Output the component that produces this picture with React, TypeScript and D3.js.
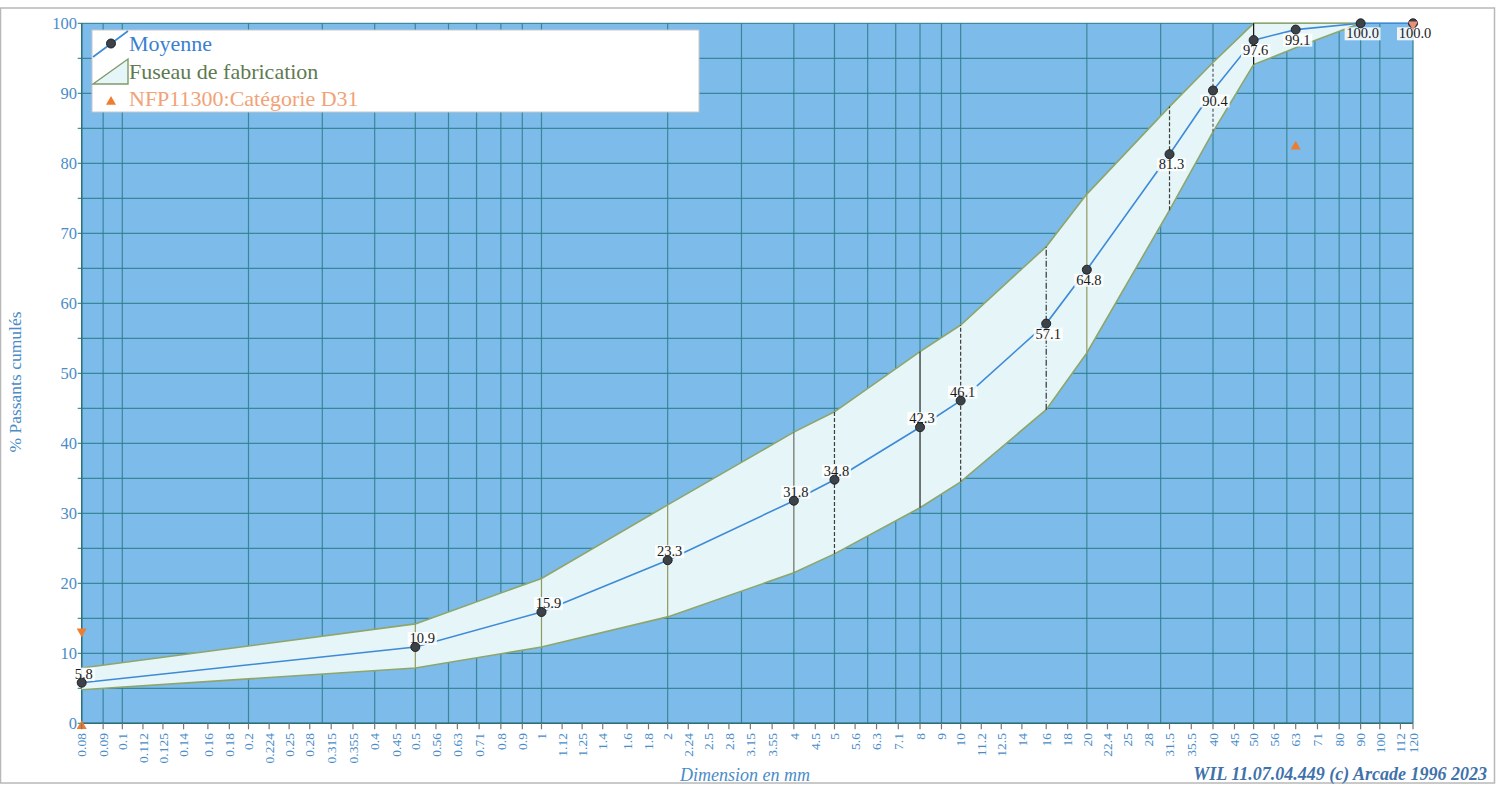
import React, { useEffect } from "react";
import * as d3 from "d3";

// ---------- data ----------
const sieveSizes = [0.08, 0.5, 1, 2, 4, 5, 8, 10, 16, 20, 31.5, 40, 50, 63, 90, 120];
const moyenneValues = [5.8, 10.9, 15.9, 23.3, 31.8, 34.8, 42.3, 46.1, 57.1, 64.8, 81.3, 90.4, 97.6, 99.1, 100.0, 100.0];

const fuseauSizes = [0.08, 0.5, 1, 2, 4, 5, 8, 10, 16, 20, 31.5, 40, 50, 63, 90];
const fuseauUpper = [7.9, 14.2, 20.7, 31.2, 41.6, 44.5, 53.1, 56.9, 68.1, 75.6, 88.1, 94.4, 100, 100, 100];
const fuseauLower = [4.8, 7.9, 10.9, 15.2, 21.5, 24.2, 30.8, 34.5, 44.8, 52.9, 73.3, 84.5, 94.1, 96.5, 100];

const normMinSizes = [0.08, 63];
const normMinValues = [0, 82.5];
const normMaxSizes = [0.08, 120];
const normMaxValues = [13, 100];

const xTickLabels = [
  "0.08", "0.09", "0.1", "0.112", "0.125", "0.14", "0.16", "0.18", "0.2", "0.224", "0.25", "0.28",
  "0.315", "0.355", "0.4", "0.45", "0.5", "0.56", "0.63", "0.71", "0.8", "0.9", "1", "1.12", "1.25",
  "1.4", "1.6", "1.8", "2", "2.24", "2.5", "2.8", "3.15", "3.55", "4", "4.5", "5", "5.6", "6.3", "7.1",
  "8", "9", "10", "11.2", "12.5", "14", "16", "18", "20", "22.4", "25", "28", "31.5", "35.5", "40",
  "45", "50", "56", "63", "71", "80", "90", "100", "112", "120",
];
const yTickValues = [0, 10, 20, 30, 40, 50, 60, 70, 80, 90, 100];

// style lookup for the vertical fuseau segments (by sieve index)
const segStyle: { stroke: string; dash?: string }[] = [
  { stroke: "none" },
  { stroke: "#8e9a5c" },
  { stroke: "#8e9a5c" },
  { stroke: "#8e9a5c" },
  { stroke: "#6a7060" },
  { stroke: "#3a3f3a", dash: "4 2" },
  { stroke: "#222" },
  { stroke: "#3a3f3a", dash: "4 2" },
  { stroke: "#333", dash: "6 2 1 2" },
  { stroke: "#8e9a5c" },
  { stroke: "#3a3f3a", dash: "4 2" },
  { stroke: "#556", dash: "3 2" },
  { stroke: "#111" },
  { stroke: "none" },
  { stroke: "none" },
];

const FONT = "'Liberation Serif', 'Times New Roman', serif";

export default function App() {
  useEffect(() => {
    document.body.style.margin = "0";
    document.body.style.overflow = "hidden";
  }, []);

  const W = 1505;
  const H = 786;
  const x = d3.scaleLog().domain([0.08, 120]).range([81.7, 1413]);
  const y = d3.scaleLinear().domain([0, 100]).range([723.3, 23.3]);

  const gridX = x.ticks();
  const gridY = d3.range(0, 101, 5);

  const band = fuseauSizes.map((s, i) => ({ s, lo: fuseauLower[i], hi: fuseauUpper[i] }));
  const area = d3
    .area<{ s: number; lo: number; hi: number }>()
    .x((d) => x(d.s))
    .y0((d) => y(d.lo))
    .y1((d) => y(d.hi));
  const bandEdgeLo = d3.line<{ s: number; lo: number; hi: number }>().x((d) => x(d.s)).y((d) => y(d.lo));
  const bandEdgeHi = d3.line<{ s: number; lo: number; hi: number }>().x((d) => x(d.s)).y((d) => y(d.hi));

  const pts = sieveSizes.map((s, i) => ({ s, v: moyenneValues[i] }));
  const line = d3.line<{ s: number; v: number }>().x((d) => x(d.s)).y((d) => y(d.v));

  const tri = (cx: number, cy: number, up: boolean, r = 5) =>
    up
      ? `M${cx},${cy - r} L${cx + r},${cy + r * 0.75} L${cx - r},${cy + r * 0.75}Z`
      : `M${cx},${cy + r} L${cx + r},${cy - r * 0.75} L${cx - r},${cy - r * 0.75}Z`;

  return (
    <svg width={W} height={H} style={{ position: "absolute", left: 0, top: 0, display: "block", background: "#fff" }} fontFamily={FONT}>
      {/* outer frame */}
      <rect x={0.5} y={8} width={1494} height={775} fill="none" stroke="#b8b8b8" strokeWidth={1.5} />

      {/* plot background */}
      <rect x={x(0.08)} y={y(100)} width={x(120) - x(0.08)} height={y(0) - y(100)} fill="#7dbbea" />

      {/* grid */}
      {gridY.map((v) => (
        <line key={"gy" + v} x1={x(0.08) - 4} x2={x(120)} y1={y(v)} y2={y(v)} stroke="#2f7f8c" strokeWidth={1.2} opacity={0.85} />
      ))}
      {gridX.map((v, i) => (
        <line key={"gx" + i} x1={x(v)} x2={x(v)} y1={y(100)} y2={y(0)} stroke="#2f7f8c" strokeWidth={1.2} opacity={0.85} />
      ))}
      <line x1={x(120)} x2={x(120)} y1={y(100)} y2={y(0)} stroke="#2f7f8c" strokeWidth={1.2} />
      <line x1={x(0.08)} x2={x(0.08)} y1={y(100)} y2={y(0)} stroke="#2f6f7c" strokeWidth={1.4} />
      <line x1={x(0.08)} x2={x(120)} y1={y(0)} y2={y(0)} stroke="#2f6f7c" strokeWidth={1.4} />

      {/* fuseau band */}
      <path d={area(band) || ""} fill="#e6f5f8" />
      <path d={bandEdgeLo(band) || ""} fill="none" stroke="#8ea66a" strokeWidth={1.6} />
      <path d={bandEdgeHi(band) || ""} fill="none" stroke="#8ea66a" strokeWidth={1.6} />
      {band.map((d, i) =>
        segStyle[i].stroke === "none" ? null : (
          <line
            key={"seg" + i}
            x1={x(d.s)}
            x2={x(d.s)}
            y1={y(d.lo)}
            y2={y(d.hi)}
            stroke={segStyle[i].stroke}
            strokeWidth={1.2}
            strokeDasharray={segStyle[i].dash}
          />
        )
      )}

      {/* moyenne line */}
      <path d={line(pts) || ""} fill="none" stroke="#3d8ad6" strokeWidth={1.6} />

      {/* value labels */}
      {pts.map((d, i) => {
        const below = d.v >= 50;
        const tx = x(d.s) + (i === 1 || i === 2 ? 7 : 2);
        const ty = below ? y(d.v) + 15 : y(d.v) - 4;
        const label = d.v.toFixed(1);
        const w = label.length * 6.8 + 2;
        return (
          <g key={"lab" + i}>
            <rect x={tx - w / 2} y={ty - 11} width={w} height={13} fill="#fff" opacity={0.85} />
            <text x={tx} y={ty} textAnchor="middle" fontSize={14.5} fill="#1a1a1a">
              {label}
            </text>
          </g>
        );
      })}

      {/* points */}
      {pts.map((d, i) => (
        <circle key={"pt" + i} cx={x(d.s)} cy={y(d.v)} r={4.5} fill="#3c4247" stroke="#1f2226" strokeWidth={1} />
      ))}

      {/* norm limits */}
      {normMinSizes.map((s, i) => (
        <path key={"nmin" + i} d={tri(x(s), y(normMinValues[i]) + (normMinValues[i] === 0 ? 2 : 0), true)} fill="#f07d2e" />
      ))}
      {normMaxSizes.map((s, i) => (
        <path key={"nmax" + i} d={tri(x(s), y(normMaxValues[i]) + (normMaxValues[i] === 100 ? 2 : 0), false)} fill={normMaxValues[i] === 100 ? "#e9907a" : "#f07d2e"} />
      ))}

      {/* y axis labels */}
      {yTickValues.map((v) => (
        <text key={"yl" + v} x={77} y={y(v)} dy="0.35em" textAnchor="end" fontSize={16.5} fill="#4a8cc8">
          {v}
        </text>
      ))}
      <text transform={`translate(21,382) rotate(-90)`} textAnchor="middle" fontSize={17.5} fill="#4a8cc8">
        % Passants cumulés
      </text>

      {/* x axis ticks and labels */}
      {xTickLabels.map((lab) => {
        const px = x(+lab);
        return (
          <g key={"xt" + lab}>
            <line x1={px} x2={px} y1={y(0)} y2={y(0) + 6} stroke="#777" strokeWidth={1.2} />
            <g transform={`translate(${px},${733}) rotate(-90)`}>
              <text textAnchor="end" dy="0.35em" fontSize={13.5} fill="#4a8cc8">
                {lab}
              </text>
            </g>
          </g>
        );
      })}
      <text x={745} y={781} textAnchor="middle" fontSize={18} fontStyle="italic" fill="#4a8cc8">
        Dimension en mm
      </text>
      <text x={1487} y={780} textAnchor="end" fontSize={18} fontStyle="italic" fontWeight="bold" fill="#3f72aa">
        WIL 11.07.04.449 (c) Arcade 1996 2023
      </text>

      {/* legend */}
      <rect x={92} y={30} width={607} height={82} fill="#fff" stroke="#c8c8c8" strokeWidth={1} />
      <line x1={93} y1={57} x2={128} y2={31} stroke="#3d8ad6" strokeWidth={1.6} />
      <circle cx={111} cy={43.5} r={4.5} fill="#3c4247" stroke="#1f2226" />
      <text x={129} y={51} fontSize={22} fill="#3a7fd0">
        Moyenne
      </text>
      <path d="M93,84 L128,84 L128,59 Z" fill="#e6f5f8" stroke="#7f9a6a" strokeWidth={1.4} />
      <text x={129} y={79} fontSize={22} fill="#5d7a50">
        Fuseau de fabrication
      </text>
      <path d={tri(111, 101, true, 5)} fill="#f07d2e" />
      <text x={129} y={106} fontSize={22} fill="#f2a277">
        NFP11300:Catégorie D31
      </text>
    </svg>
  );
}
